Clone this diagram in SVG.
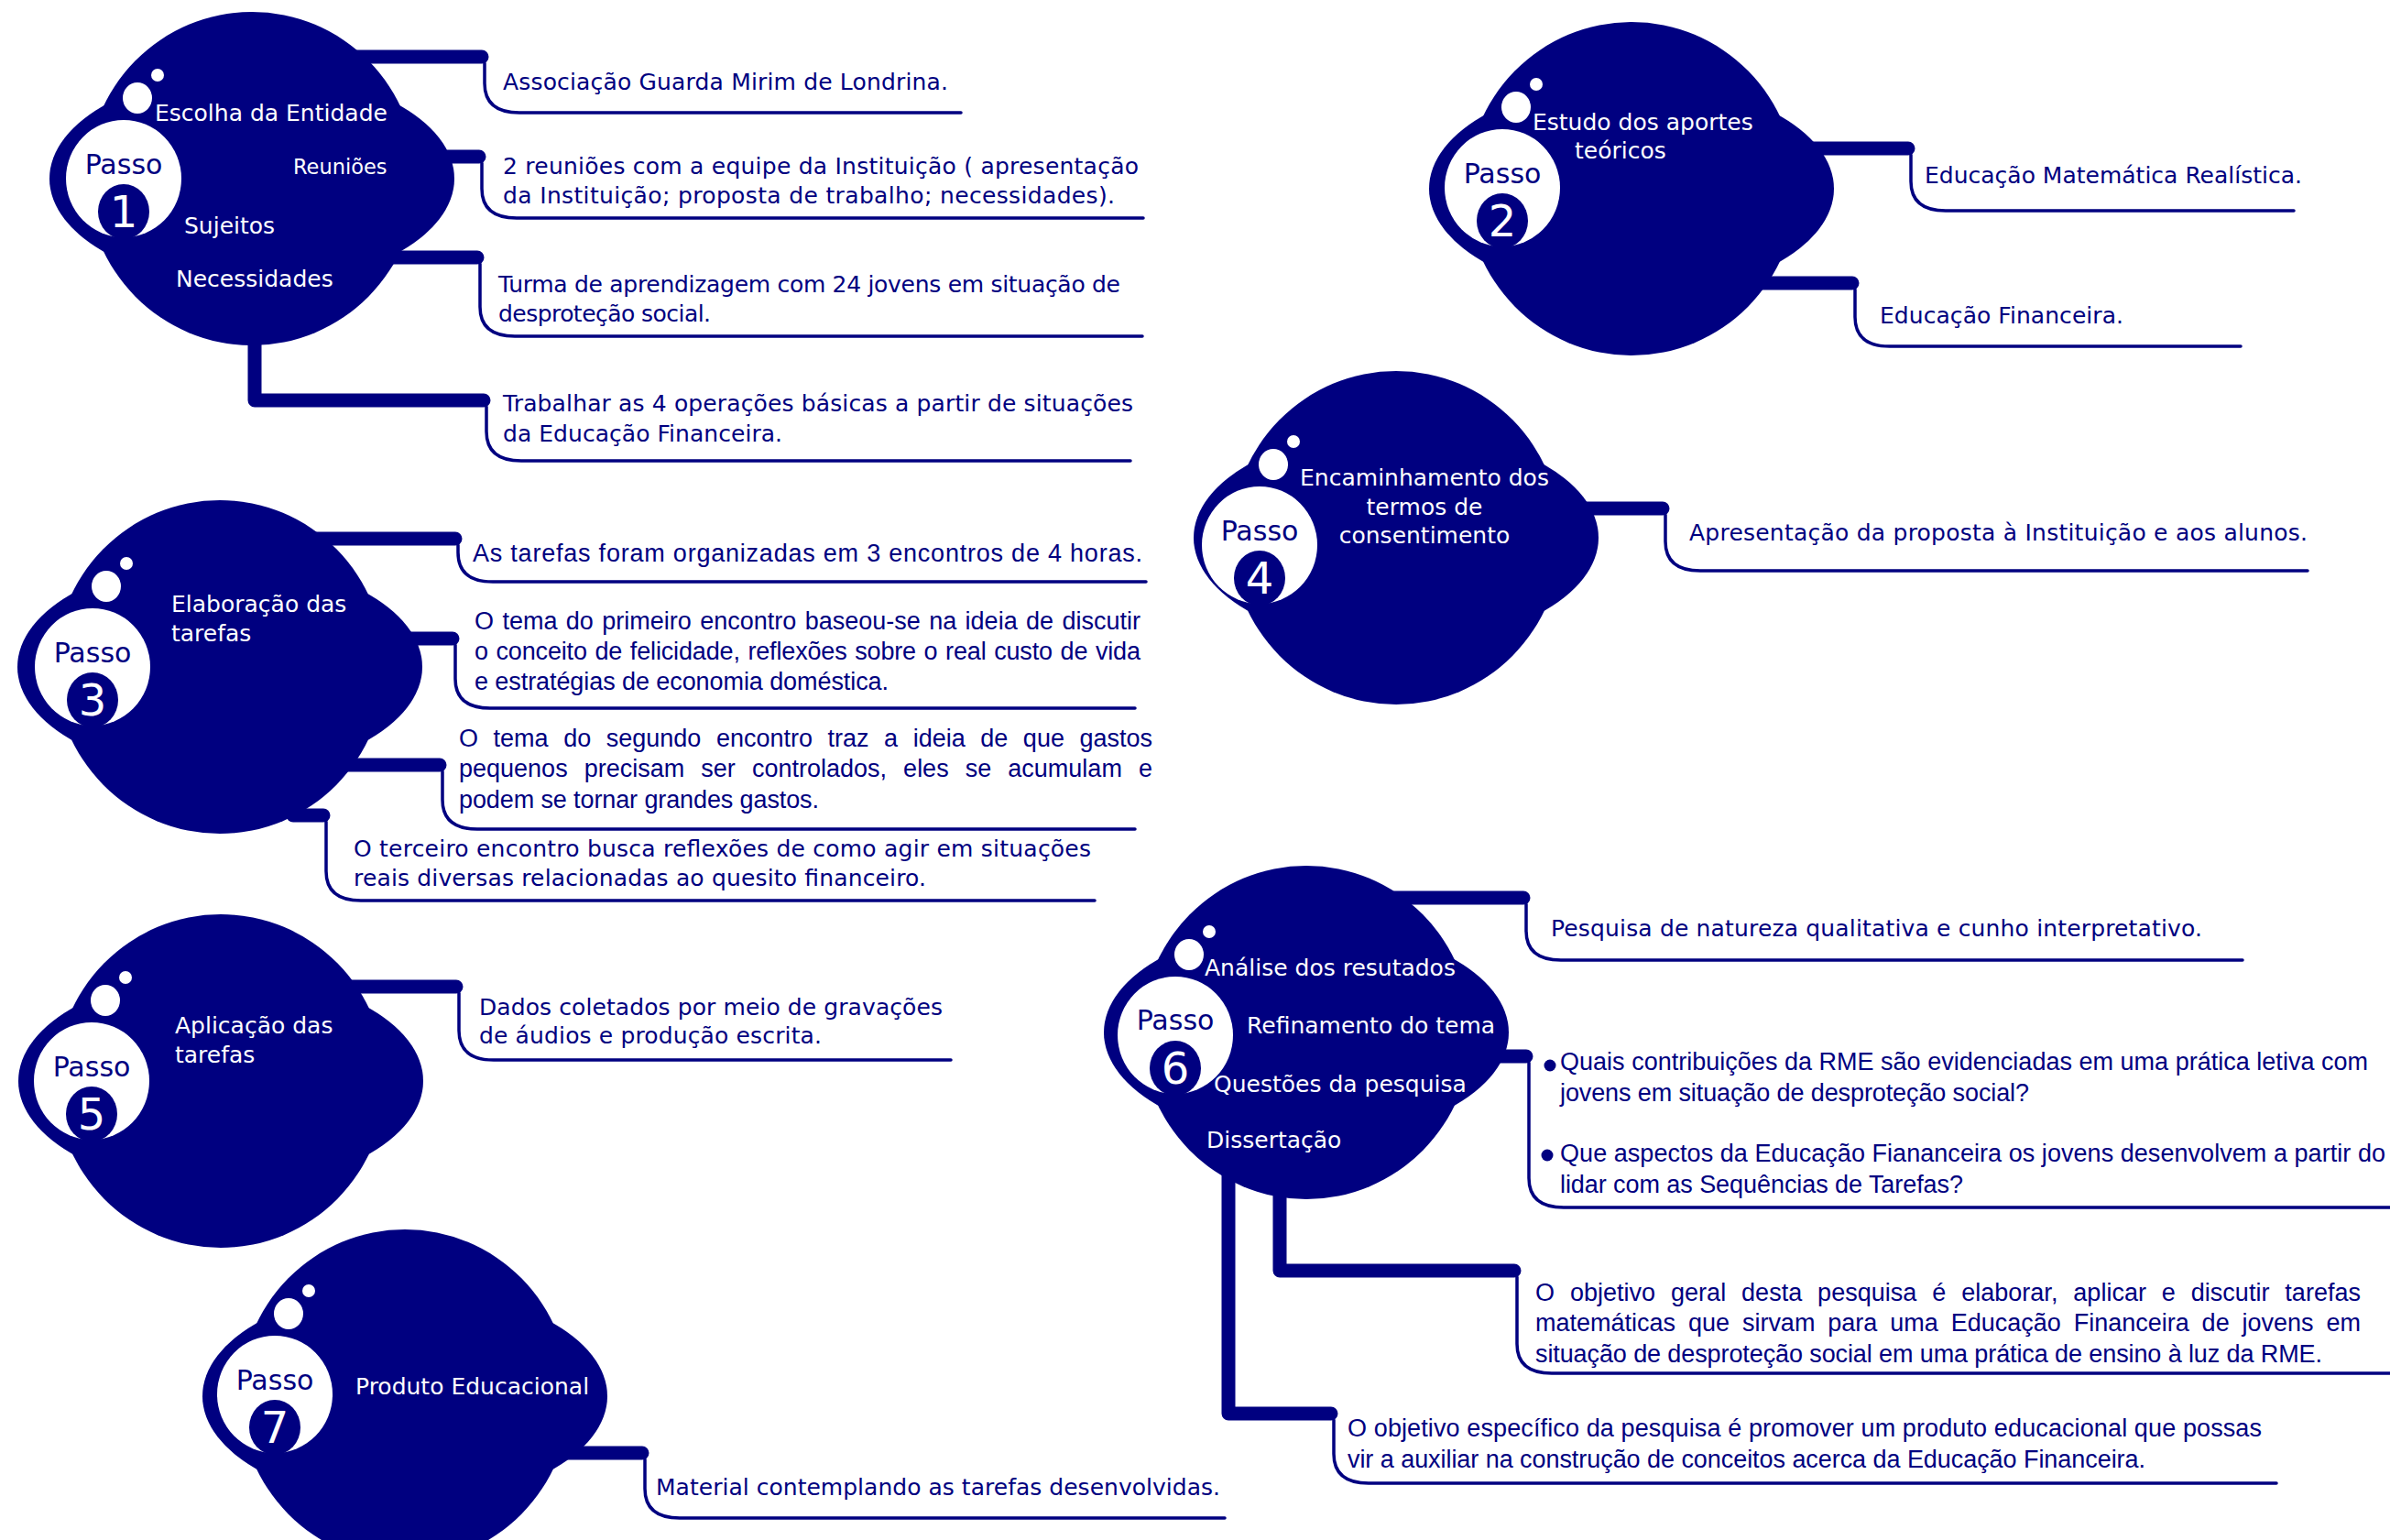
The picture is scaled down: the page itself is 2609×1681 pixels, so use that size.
<svg xmlns="http://www.w3.org/2000/svg" xmlns:xlink="http://www.w3.org/1999/xlink" width="2609" height="1681" viewBox="0 0 2609 1681">
<style>
.bg{fill:#ffffff}
.blob{fill:#000080}
.bar{fill:none;stroke:#000080;stroke-width:15;stroke-linecap:round;stroke-linejoin:round}
.thin{fill:none;stroke:#000080;stroke-width:3.5;stroke-linecap:round}
.lbl{fill:#ffffff;font-family:'DejaVu Sans',Verdana,sans-serif;font-size:25px}
.passo{fill:#000080;font-family:'DejaVu Sans',Verdana,sans-serif;font-size:30px;text-anchor:middle}
.num{fill:#ffffff;font-family:'DejaVu Sans',Verdana,sans-serif;font-size:48px;text-anchor:middle}
.v{fill:#000080;font-family:'DejaVu Sans',Verdana,sans-serif;font-size:25px}
.a{fill:#000080;font-family:'Liberation Sans',Arial,sans-serif;font-size:27px}
.dot{fill:#000080}
</style>
<defs>
<g id="blob" class="blob">
<ellipse cx="0" cy="0" rx="180" ry="182"/>
<ellipse cx="0" cy="0" rx="221" ry="117"/>
</g>
<g id="badge">
<ellipse cx="0" cy="0" rx="63" ry="64" fill="#ffffff"/>
<ellipse cx="0" cy="36" rx="28" ry="30" fill="#000080"/>
<ellipse cx="15" cy="-88" rx="16" ry="17" fill="#ffffff"/>
<circle cx="37" cy="-113" r="7" fill="#ffffff"/>
</g>
</defs>
<rect class="bg" x="0" y="0" width="2609" height="1681"/>

<g id="connectors">
<!-- node 1 -->
<path class="bar" d="M380 62 H526"/>
<path class="thin" d="M529 69 V91 Q529 123 567 123 H1049"/>
<path class="bar" d="M470 171 H523"/>
<path class="thin" d="M526 178 V206 Q526 238 564 238 H1248"/>
<path class="bar" d="M420 281 H521"/>
<path class="thin" d="M524 288 V335 Q524 367 562 367 H1247"/>
<path class="bar" d="M278 360 V437 H528"/>
<path class="thin" d="M531 444 V471 Q531 503 569 503 H1234"/>
<!-- node 2 -->
<path class="bar" d="M1960 162 H2083"/>
<path class="thin" d="M2086 169 V198 Q2086 230 2124 230 H2504"/>
<path class="bar" d="M1900 309 H2022"/>
<path class="thin" d="M2025 316 V346 Q2025 378 2063 378 H2446"/>
<!-- node 4 -->
<path class="bar" d="M1720 555 H1815"/>
<path class="thin" d="M1818 562 V591 Q1818 623 1856 623 H2519"/>
<!-- node 3 -->
<path class="bar" d="M330 588 H497"/>
<path class="thin" d="M500 595 V603 Q500 635 538 635 H1251"/>
<path class="bar" d="M440 697 H494"/>
<path class="thin" d="M497 704 V741 Q497 773 535 773 H1239"/>
<path class="bar" d="M380 835 H480"/>
<path class="thin" d="M483 842 V873 Q483 905 521 905 H1239"/>
<path class="bar" d="M320 890 H353"/>
<path class="thin" d="M356 897 V951 Q356 983 394 983 H1195"/>
<!-- node 5 -->
<path class="bar" d="M370 1077 H498"/>
<path class="thin" d="M501 1084 V1125 Q501 1157 539 1157 H1038"/>
<!-- node 7 -->
<path class="bar" d="M620 1586 H701"/>
<path class="thin" d="M704 1593 V1625 Q704 1657 742 1657 H1337"/>
<!-- node 6 -->
<path class="bar" d="M1510 980 H1663"/>
<path class="thin" d="M1666 987 V1016 Q1666 1048 1704 1048 H2448"/>
<path class="bar" d="M1630 1153 H1666"/>
<path class="thin" d="M1669 1160 V1286 Q1669 1318 1707 1318 H2609"/>
<path class="bar" d="M1397 1290 V1387 H1653"/>
<path class="thin" d="M1656 1394 V1467 Q1656 1499 1694 1499 H2609"/>
<path class="bar" d="M1341 1270 V1543 H1453"/>
<path class="thin" d="M1456 1550 V1587 Q1456 1619 1494 1619 H2485"/>
</g>

<g id="node1">
<use xlink:href="#blob" href="#blob" transform="translate(275 195)"/>
<use xlink:href="#badge" href="#badge" transform="translate(135 195)"/>
<text class="passo" x="135" y="190">Passo</text>
<text class="num" x="135" y="248">1</text>
<text class="lbl" x="169" y="132">Escolha da Entidade</text>
<text class="lbl" x="320" y="190" style="font-size:22.5px">Reuniões</text>
<text class="lbl" x="201" y="255">Sujeitos</text>
<text class="lbl" x="192" y="313">Necessidades</text>
</g>
<g id="node1-texts">
<text class="v" x="549" y="98" textLength="486">Associação Guarda Mirim de Londrina.</text>
<text class="v" x="549" y="190" textLength="694">2 reuniões com a equipe da Instituição ( apresentação</text>
<text class="v" x="549" y="222" textLength="668">da Instituição; proposta de trabalho; necessidades).</text>
<text class="v" x="544" y="319" textLength="679">Turma de aprendizagem com 24 jovens em situação de</text>
<text class="v" x="544" y="351" textLength="232">desproteção social.</text>
<text class="v" x="549" y="449" textLength="688">Trabalhar as 4 operações básicas a partir de situações</text>
<text class="v" x="549" y="482" textLength="305">da Educação Financeira.</text>
</g>

<g id="node2">
<use xlink:href="#blob" href="#blob" transform="translate(1781 206)"/>
<use xlink:href="#badge" href="#badge" transform="translate(1640 205)"/>
<text class="passo" x="1640" y="200">Passo</text>
<text class="num" x="1640" y="258">2</text>
<text class="lbl" x="1673" y="142">Estudo dos aportes</text>
<text class="lbl" x="1719" y="173">teóricos</text>
</g>
<g id="node2-texts">
<text class="v" x="2101" y="200" textLength="412">Educação Matemática Realística.</text>
<text class="v" x="2052" y="353" textLength="266">Educação Financeira.</text>
</g>

<g id="node4">
<use xlink:href="#blob" href="#blob" transform="translate(1524 587)"/>
<use xlink:href="#badge" href="#badge" transform="translate(1375 595)"/>
<text class="passo" x="1375" y="590">Passo</text>
<text class="num" x="1375" y="648">4</text>
<text class="lbl" x="1555" y="530" text-anchor="middle">Encaminhamento dos</text>
<text class="lbl" x="1555" y="562" text-anchor="middle">termos de</text>
<text class="lbl" x="1555" y="593" text-anchor="middle">consentimento</text>
</g>
<g id="node4-texts">
<text class="v" x="1844" y="590" textLength="675">Apresentação da proposta à Instituição e aos alunos.</text>
</g>

<g id="node3">
<use xlink:href="#blob" href="#blob" transform="translate(240 728)"/>
<use xlink:href="#badge" href="#badge" transform="translate(101 728)"/>
<text class="passo" x="101" y="723">Passo</text>
<text class="num" x="101" y="781">3</text>
<text class="lbl" x="187" y="668">Elaboração das</text>
<text class="lbl" x="187" y="700">tarefas</text>
</g>
<g id="node3-texts">
<text class="a" x="516" y="613" textLength="731">As tarefas foram organizadas em 3 encontros de 4 horas.</text>
<text class="a" x="518" y="687" textLength="727" word-spacing="1.9">O tema do primeiro encontro baseou-se na ideia de discutir</text>
<text class="a" x="518" y="720" textLength="727" word-spacing="1.3">o conceito de felicidade, reflexões sobre o real custo de vida</text>
<text class="a" x="518" y="753" textLength="452">e estratégias de economia doméstica.</text>
<text class="a" x="501" y="815" textLength="757" word-spacing="9.1">O tema do segundo encontro traz a ideia de que gastos</text>
<text class="a" x="501" y="848" textLength="757" word-spacing="10.6">pequenos precisam ser controlados, eles se acumulam e</text>
<text class="a" x="501" y="882" textLength="393">podem se tornar grandes gastos.</text>
<text class="v" x="386" y="935" textLength="805">O terceiro encontro busca reflexões de como agir em situações</text>
<text class="v" x="386" y="967" textLength="625">reais diversas relacionadas ao quesito financeiro.</text>
</g>

<g id="node5">
<use xlink:href="#blob" href="#blob" transform="translate(241 1180)"/>
<use xlink:href="#badge" href="#badge" transform="translate(100 1180)"/>
<text class="passo" x="100" y="1175">Passo</text>
<text class="num" x="100" y="1233">5</text>
<text class="lbl" x="191" y="1128">Aplicação das</text>
<text class="lbl" x="191" y="1160">tarefas</text>
</g>
<g id="node5-texts">
<text class="v" x="523" y="1108" textLength="506">Dados coletados por meio de gravações</text>
<text class="v" x="523" y="1139" textLength="374">de áudios e produção escrita.</text>
</g>

<g id="node7">
<use xlink:href="#blob" href="#blob" transform="translate(442 1524)"/>
<use xlink:href="#badge" href="#badge" transform="translate(300 1522)"/>
<text class="passo" x="300" y="1517">Passo</text>
<text class="num" x="300" y="1575">7</text>
<text class="lbl" x="388" y="1522">Produto Educacional</text>
</g>
<g id="node7-texts">
<text class="v" x="716" y="1632" textLength="616">Material contemplando as tarefas desenvolvidas.</text>
</g>

<g id="node6">
<use xlink:href="#blob" href="#blob" transform="translate(1426 1127)"/>
<use xlink:href="#badge" href="#badge" transform="translate(1283 1130)"/>
<text class="passo" x="1283" y="1124">Passo</text>
<text class="num" x="1283" y="1183">6</text>
<text class="lbl" x="1315" y="1065">Análise dos resutados</text>
<text class="lbl" x="1361" y="1128">Refinamento do tema</text>
<text class="lbl" x="1325" y="1192">Questões da pesquisa</text>
<text class="lbl" x="1317" y="1253">Dissertação</text>
</g>
<g id="node6-texts">
<text class="v" x="1693" y="1022" textLength="711">Pesquisa de natureza qualitativa e cunho interpretativo.</text>
<circle class="dot" cx="1692" cy="1163" r="6.5"/>
<text class="a" x="1703" y="1168" textLength="882">Quais contribuições da RME são evidenciadas em uma prática letiva com</text>
<text class="a" x="1703" y="1202" textLength="512">jovens em situação de desproteção social?</text>
<circle class="dot" cx="1689" cy="1261" r="6.5"/>
<text class="a" x="1703" y="1268" textLength="901">Que aspectos da Educação Fiananceira os jovens desenvolvem a partir do</text>
<text class="a" x="1703" y="1302" textLength="440">lidar com as Sequências de Tarefas?</text>
<text class="a" x="1676" y="1420" textLength="901" word-spacing="9.4">O objetivo geral desta pesquisa é elaborar, aplicar e discutir tarefas</text>
<text class="a" x="1676" y="1453" textLength="901" word-spacing="6.4">matemáticas que sirvam para uma Educação Financeira de jovens em</text>
<text class="a" x="1676" y="1487" textLength="859">situação de desproteção social em uma prática de ensino à luz da RME.</text>
<text class="a" x="1471" y="1568" textLength="998">O objetivo específico da pesquisa é promover um produto educacional que possas</text>
<text class="a" x="1471" y="1602" textLength="871">vir a auxiliar na construção de conceitos acerca da Educação Financeira.</text>
</g>
</svg>
